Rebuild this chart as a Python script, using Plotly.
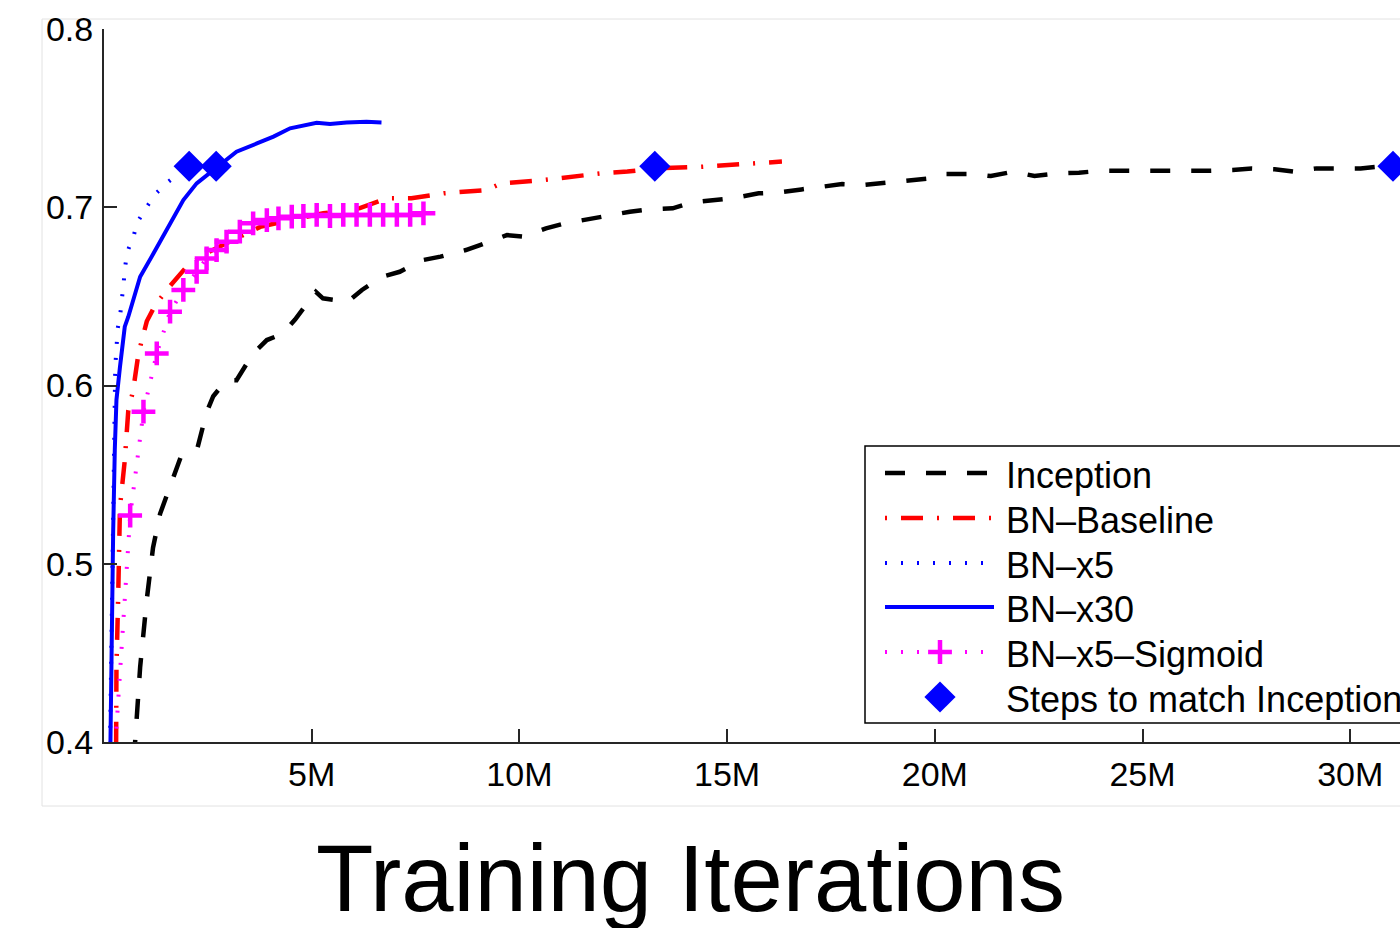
import plotly.graph_objects as go

# ---------------- data (x in millions of training iterations) ----------------
inception_x = [0.72, 0.87, 1.03, 1.18, 1.35, 1.63, 1.85, 2.25, 2.31, 2.47, 2.63, 2.95, 3.19, 3.59,
               3.92, 4.3, 4.6, 4.85, 5.1, 5.27, 5.87, 6.21, 6.69, 7.12, 7.68, 8.1, 8.71, 9.05,
               9.7, 10.08, 10.64, 11.11, 11.63, 12.1, 12.66, 13.09, 13.69, 14.12, 14.73, 15.11,
               15.76, 16.19, 16.79, 17.22, 17.77, 18.27, 18.8, 19.33, 19.88, 20.2, 20.9, 21.35,
               21.9, 22.4, 22.97, 23.47, 24.02, 24.48, 25.04, 25.54, 26.1, 26.6, 27.17, 27.63,
               28.18, 28.64, 29.19, 29.65, 30.25, 30.67, 31.03]
inception_y = [0.39, 0.442, 0.48, 0.509, 0.528, 0.547, 0.56, 0.565, 0.57, 0.585, 0.594, 0.603, 0.603, 0.618,
               0.6255, 0.629, 0.637, 0.645, 0.6526, 0.6489, 0.647, 0.6536, 0.661, 0.6638, 0.6704, 0.6723, 0.676, 0.6788,
               0.6844, 0.6835, 0.6882, 0.691, 0.6932, 0.6957, 0.6975, 0.6988, 0.6994, 0.7026, 0.7037, 0.705,
               0.7078, 0.7082, 0.71, 0.7112, 0.713, 0.7125, 0.7138, 0.7153, 0.7162, 0.7187, 0.7187, 0.7175,
               0.72, 0.7175, 0.719, 0.7194, 0.7205, 0.7205, 0.7205, 0.7205, 0.72, 0.7205, 0.7209, 0.7218,
               0.7213, 0.72, 0.7218, 0.7218, 0.7218, 0.7227, 0.7227]

baseline_x = [0.29, 0.3, 0.34, 0.385, 0.5, 0.585, 0.7, 0.83, 1.03, 1.23, 1.51, 1.99, 2.47, 3.11, 3.76,
              4.48, 5.28, 6.16, 6.81, 7.4, 8.18, 9.22, 9.56, 10.59, 11.96, 12.6, 13.26, 14.37, 15.67, 16.32]
baseline_y = [0.39, 0.442, 0.48, 0.532, 0.558, 0.586, 0.597, 0.618, 0.636, 0.645, 0.6536, 0.6667, 0.6743, 0.6816, 0.689,
              0.6928, 0.6966, 0.6995, 0.705, 0.705, 0.7078, 0.7097, 0.7134, 0.7153, 0.719, 0.72, 0.7218, 0.7227, 0.7247, 0.7256]

bn_x5_x = [0.14, 0.2, 0.25, 0.27, 0.33, 0.385, 0.425, 0.465, 0.505, 0.545, 0.63, 0.72, 0.8, 1.03, 1.27, 1.55, 1.85]
bn_x5_y = [0.39, 0.5, 0.58, 0.61, 0.632, 0.6386, 0.647, 0.6564, 0.6657, 0.674, 0.679, 0.6845, 0.6915, 0.7003, 0.7082, 0.7143, 0.72]

bn_x30_x = [0.15, 0.185, 0.22, 0.26, 0.3, 0.385, 0.5, 0.585, 0.87, 1.19, 1.59, 1.91, 2.23, 2.63, 2.95,
            3.19, 3.68, 4.08, 4.48, 4.8, 5.12, 5.44, 5.84, 6.32, 6.68]
bn_x30_y = [0.39, 0.461, 0.517, 0.564, 0.592, 0.6105, 0.633, 0.6386, 0.661, 0.674, 0.691, 0.704, 0.7134, 0.7209, 0.7265,
            0.7312, 0.7358, 0.7396, 0.7443, 0.7461, 0.7474, 0.7467, 0.7476, 0.748, 0.7476]

sigmoid_x = [0.0, 0.63, 0.95, 1.27, 1.59, 1.91, 2.23, 2.47, 2.71, 2.95, 3.27, 3.59, 3.92, 4.2, 4.52,
             4.8, 5.12, 5.44, 5.76, 6.08, 6.4, 6.72, 7.05, 7.37, 7.69]
sigmoid_y = [0.30, 0.527, 0.5853, 0.618, 0.6414, 0.6536, 0.6638, 0.6713, 0.676, 0.6807, 0.6863, 0.691, 0.6928, 0.6938, 0.6947,
             0.6951, 0.6957, 0.6951, 0.6957, 0.6957, 0.6957, 0.6957, 0.6957, 0.6957, 0.6966]

match_x = [2.05, 2.7, 13.26, 31.03]
match_y = [0.723, 0.723, 0.723, 0.723]

x_tick_vals = [5, 10, 15, 20, 25, 30]
x_tick_text = ["5M", "10M", "15M", "20M", "25M", "30M"]
y_tick_vals = [0.4, 0.5, 0.6, 0.7, 0.8]
y_tick_text = ["0.4", "0.5", "0.6", "0.7", "0.8"]

legend_labels = ["Inception", "BN\u2013Baseline", "BN\u2013x5", "BN\u2013x30",
                 "BN\u2013x5\u2013Sigmoid", "Steps to match Inception"]
x_title = "Training Iterations"

# ---------------- styles ----------------
FONT = "Liberation Sans, Arial, Helvetica, sans-serif"
BLACK, RED, BLUE, MAGENTA = "#000000", "#ff0000", "#0000ff", "#ff00ff"
styles = [
    dict(mode="lines", line=dict(color=BLACK, width=4.5, dash="20px,21px")),
    dict(mode="lines", line=dict(color=RED, width=4.5, dash="2px,14px,22px,14px")),
    dict(mode="lines", line=dict(color=BLUE, width=4, dash="2px,14px")),
    dict(mode="lines", line=dict(color=BLUE, width=4)),
    dict(mode="lines+markers", line=dict(color=MAGENTA, width=4, dash="2px,14px"),
         marker=dict(symbol="cross-thin", size=17, line=dict(color=MAGENTA, width=4.5))),
    dict(mode="markers", marker=dict(symbol="diamond", size=24, color=BLUE, line=dict(width=0))),
]
series = [(inception_x, inception_y), (baseline_x, baseline_y), (bn_x5_x, bn_x5_y),
          (bn_x30_x, bn_x30_y), (sigmoid_x, sigmoid_y), (match_x, match_y)]

fig = go.Figure()
for (xs, ys), st, name in zip(series, styles, legend_labels):
    fig.add_trace(go.Scatter(x=xs, y=ys, name=name, showlegend=False, hoverinfo="skip", **st))

# ---------------- plot geometry ----------------
W, H = 1400, 928
L, T, R, B = 104, 29, 0, 186
PW, PH = W - L - R, H - T - B


def px(xp):
    return (xp - L) / PW


def py(yp):
    return (H - B - yp) / PH


# hand-drawn legend (matches the MATLAB-style long samples)
row_y = [473, 518, 563, 607, 652, 697]
sample_x0, sample_x1, sample_mid = 885, 994, 940
for i, (st, name) in enumerate(zip(styles, legend_labels)):
    yy = py(row_y[i])
    if st["mode"] == "lines":
        fig.add_trace(go.Scatter(x=[px(sample_x0), px(sample_x1)], y=[yy, yy], xaxis="x2", yaxis="y2",
                                 showlegend=False, hoverinfo="skip", **st))
    elif st["mode"] == "lines+markers":
        fig.add_trace(go.Scatter(x=[px(sample_x0), px(sample_x1)], y=[yy, yy], xaxis="x2", yaxis="y2",
                                 mode="lines", line=st["line"], showlegend=False, hoverinfo="skip"))
        fig.add_trace(go.Scatter(x=[px(sample_mid)], y=[yy], xaxis="x2", yaxis="y2", mode="markers",
                                 marker=st["marker"], showlegend=False, hoverinfo="skip"))
    else:
        fig.add_trace(go.Scatter(x=[px(sample_mid)], y=[yy], xaxis="x2", yaxis="y2",
                                 showlegend=False, hoverinfo="skip", **st))
    fig.add_annotation(x=px(1004), y=yy - 2.5 / PH, xref="paper", yref="paper", text=name, showarrow=False,
                       xanchor="left", yanchor="middle", font=dict(family=FONT, size=36, color="black"))

shapes = [
    # faint outer frame of the original figure
    dict(type="rect", xref="paper", yref="paper", x0=px(42), x1=px(1420), y0=py(806), y1=py(19),
         line=dict(color="#e2e2e2", width=1), fillcolor="rgba(0,0,0,0)", layer="below"),
    # legend box
    dict(type="rect", xref="paper", yref="paper", x0=px(865), x1=px(1420), y0=py(723), y1=py(446),
         line=dict(color="black", width=1.5), fillcolor="white", layer="below"),
]

axis_common = dict(showgrid=False, zeroline=False, showline=True, linecolor="#262626", linewidth=2,
                   ticks="inside", ticklen=13, tickwidth=1.5, tickcolor="#262626",
                   tickfont=dict(family=FONT, size=34, color="black"))

fig.update_layout(
    width=W, height=H,
    margin=dict(l=L, r=R, t=T, b=B, autoexpand=False),
    paper_bgcolor="white", plot_bgcolor="white",
    xaxis=dict(range=[0, PW / 41.54], tickmode="array", tickvals=x_tick_vals, ticktext=x_tick_text,
               ticklabelstandoff=1, **axis_common),
    yaxis=dict(range=[0.4, 0.8], tickmode="array", tickvals=y_tick_vals, ticktext=y_tick_text,
               ticklabelstandoff=2, **axis_common),
    xaxis2=dict(range=[0, 1], overlaying="x", visible=False, fixedrange=True),
    yaxis2=dict(range=[0, 1], overlaying="y", visible=False, fixedrange=True),
    shapes=shapes,
    showlegend=False,
)
fig.add_annotation(x=px(690), y=py(878), xref="paper", yref="paper", text=x_title, showarrow=False,
                   xanchor="center", yanchor="middle", font=dict(family=FONT, size=94, color="black"))

fig.write_html("out.html", config={"displayModeBar": False},
               post_script="document.body.style.margin='0';document.body.style.overflow='hidden';")
